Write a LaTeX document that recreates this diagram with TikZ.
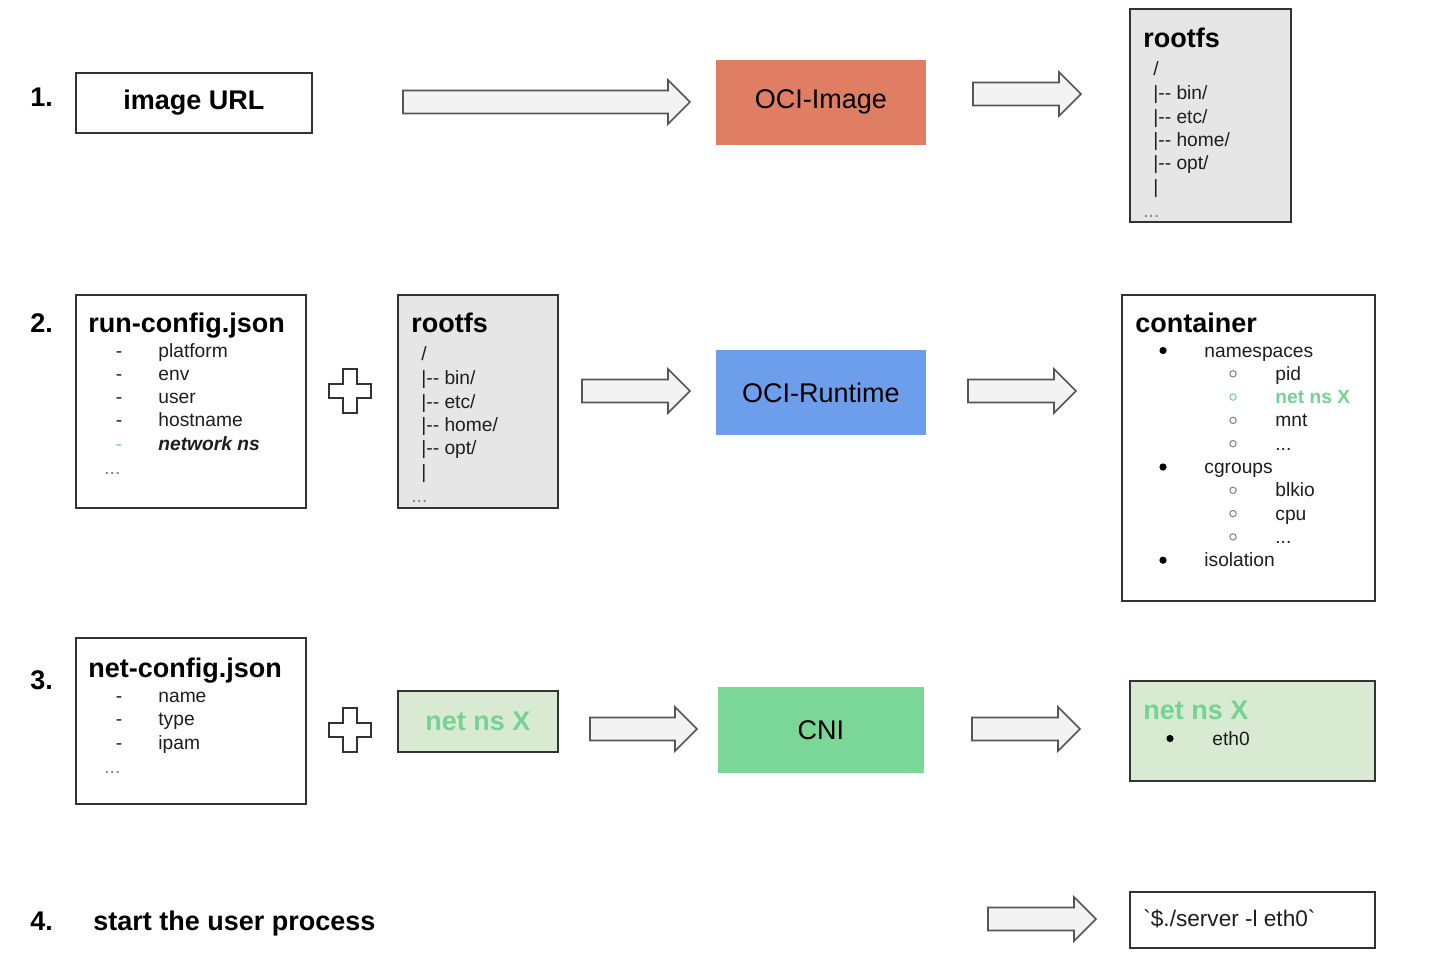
\documentclass[tikz,border=0pt]{standalone}
\usepackage{fontspec}
\setmainfont{Liberation Sans}[Ligatures=TeXOff]
\definecolor{boxline}{HTML}{333333}
\definecolor{salmon}{HTML}{E07E63}
\definecolor{cblue}{HTML}{6D9EEB}
\definecolor{cgreen}{HTML}{7BD797}
\definecolor{lgreen}{HTML}{D9EAD3}
\definecolor{gtext}{HTML}{74D393}
\definecolor{lgray}{HTML}{E6E6E6}
\definecolor{afill}{HTML}{F3F3F3}
\definecolor{aline}{HTML}{555555}
\definecolor{itemc}{HTML}{1E1E1E}
\newcommand\tdots{...}
\newcommand\blockarrow[3]{%
  \draw[barrow] (#1,#3-11.5) -- (#2-22,#3-11.5) -- (#2-22,#3-22) -- (#2,#3)
    -- (#2-22,#3+22) -- (#2-22,#3+11.5) -- (#1,#3+11.5) -- cycle;}
\newcommand\plussign[2]{%
  \draw[plusst] (#1-7,#2-22) -- (#1+7,#2-22) -- (#1+7,#2-7) -- (#1+21,#2-7)
    -- (#1+21,#2+7) -- (#1+7,#2+7) -- (#1+7,#2+22) -- (#1-7,#2+22)
    -- (#1-7,#2+7) -- (#1-21,#2+7) -- (#1-21,#2-7) -- (#1-7,#2-7) -- cycle;}
\begin{document}
\begin{tikzpicture}[x=0.5pt,y=-0.5pt,
  box/.style={draw=boxline, line width=0.85pt, inner sep=0pt, anchor=north west},
  bigtext/.style={font=\fontsize{13.5}{16}\selectfont},
  title/.style={font=\fontsize{13.5}{16}\selectfont\bfseries, inner sep=0pt, anchor=base west},
  item/.style={font=\fontsize{9.6}{11.6}\selectfont, text=itemc, inner sep=0pt, anchor=base west},
  dashitem/.style={font=\fontsize{9.6}{11.6}\selectfont, text=itemc, inner sep=0pt, anchor=base},
  barrow/.style={draw=aline, fill=afill, line width=0.8pt, line join=miter},
  plusst/.style={draw=boxline, fill=white, line width=0.8pt},
  bul/.style={fill=black},
  subbul/.style={draw=gray, line width=0.5pt}]
\useasboundingbox (0,0) rectangle (1442,970);
\fill[white] (0,0) rectangle (1442,970);

% ---------- Row 1 ----------
\node[title] (n1) at (30,106) {1.};
\node[box, fill=white, minimum width=118pt, minimum height=30pt, font=\fontsize{13.5}{16}\selectfont\bfseries] (url) at (75,72) {image URL};
\blockarrow{403}{690}{102}
\node[box, draw=salmon, fill=salmon, minimum width=104pt, minimum height=41.5pt, bigtext] (ociimg) at (716,60) {OCI-Image};
\blockarrow{973}{1081}{94}
\node[box, fill=lgray, minimum width=80.5pt, minimum height=106.5pt] (rootfsA) at (1129,8) {};
\node[title] (rootfsAt) at (1143,47) {rootfs};
\node[item] (ra0) at (1153,75) {/};
\node[item] (ra1) at (1153,99.5) {|-- bin/};
\node[item] (ra2) at (1153,123) {|-- etc/};
\node[item] (ra3) at (1153,146.3) {|-- home/};
\node[item] (ra4) at (1153,169.6) {|-- opt/};
\node[item] (ra5) at (1153,193) {|};
\node[item, text=gray] (radots) at (1143,217) {\tdots};

% ---------- Row 2 ----------
\node[title] (n2) at (30,332) {2.};
\node[box, fill=white, minimum width=115pt, minimum height=106.5pt] (runcfg) at (75,294) {};
\node[title] (runcfgt) at (88,332) {run-config.json};
\foreach \t [count=\i] in {platform, env, user, hostname}{
  \node[dashitem] (rcd\i) at (119,{357+23.3*(\i-1)}) {-};
  \node[item] (rc\i) at (158,{357+23.3*(\i-1)}) {\t};
}
\node[dashitem, text=gtext] (rcd5) at (119,450.2) {-};
\node[item, font=\fontsize{9.6}{11.6}\selectfont\bfseries\itshape] (rc5) at (158,450.2) {network ns};
\node[item, text=gray] (rcdots) at (104,474) {\tdots};

\plussign{350}{391}

\node[box, fill=lgray, minimum width=80pt, minimum height=106.5pt] (rootfsB) at (397,294) {};
\node[title] (rootfsBt) at (411,332) {rootfs};
\node[item] (rb0) at (421,360) {/};
\node[item] (rb1) at (421,384.5) {|-- bin/};
\node[item] (rb2) at (421,408) {|-- etc/};
\node[item] (rb3) at (421,431.3) {|-- home/};
\node[item] (rb4) at (421,454.6) {|-- opt/};
\node[item] (rb5) at (421,478) {|};
\node[item, text=gray] (rbdots) at (411,502) {\tdots};

\blockarrow{582}{690}{391}
\node[box, draw=cblue, fill=cblue, minimum width=104pt, minimum height=41.5pt, bigtext] (ocirt) at (716,350) {OCI-Runtime};
\blockarrow{968}{1076}{391}

\node[box, fill=white, minimum width=126.5pt, minimum height=153pt] (container) at (1121,294) {};
\node[title] (containert) at (1135,332) {container};
% level 1 items
\foreach \t/\k [count=\i] in {namespaces/0, cgroups/5, isolation/9}{
  \fill[bul] (1163,{357+23.3*\k-6.5}) circle (3.6);
  \node[item] (cl\i) at (1204,{357+23.3*\k}) {\t};
}
% level 2 items
\foreach \t/\k [count=\i] in {pid/1, mnt/3, \tdots/4, blkio/6, cpu/7, \tdots/8}{
  \draw[subbul] (1233,{357+23.3*\k-6.5}) circle (3.2);
  \node[item] (cs\i) at (1275,{357+23.3*\k}) {\t};
}
\draw[subbul, draw=gtext] (1233,{357+23.3*2-6.5}) circle (3.2);
\node[item, text=gtext, font=\fontsize{9.6}{11.6}\selectfont\bfseries] (csnet) at (1275,{357+23.3*2}) {net ns X};

% ---------- Row 3 ----------
\node[title] (n3) at (30,689) {3.};
\node[box, fill=white, minimum width=115pt, minimum height=83pt] (netcfg) at (75,637) {};
\node[title] (netcfgt) at (88,677) {net-config.json};
\foreach \t [count=\i] in {name, type, ipam}{
  \node[dashitem] (ncd\i) at (119,{702.5+23.3*(\i-1)}) {-};
  \node[item] (nc\i) at (158,{702.5+23.3*(\i-1)}) {\t};
}
\node[item, text=gray] (ncdots) at (104,773) {\tdots};

\plussign{350}{730}

\node[box, fill=lgreen, minimum width=80pt, minimum height=30.5pt, text=gtext, font=\fontsize{13.5}{16}\selectfont\bfseries] (netnsA) at (397,690) {net ns X};
\blockarrow{590}{697}{729}
\node[box, draw=cgreen, fill=cgreen, minimum width=102pt, minimum height=42pt, bigtext] (cni) at (718,687) {CNI};
\blockarrow{972}{1080}{729}
\node[box, fill=lgreen, minimum width=122.5pt, minimum height=50pt] (netnsB) at (1129,680) {};
\node[title, text=gtext] (netnsBt) at (1143,719) {net ns X};
\fill[bul] (1170,738.5) circle (3.6);
\node[item] (eth) at (1212,745) {eth0};

% ---------- Row 4 ----------
\node[title] (n4) at (30,930) {4.};
\node[title] (startp) at (93,930) {start the user process};
\blockarrow{988}{1096}{919}
\node[box, fill=white, minimum width=122.5pt, minimum height=28pt] (srvbox) at (1129,891) {};
\node[item, font=\fontsize{11.3}{13}\selectfont] (srv) at (1143,926) {`\$./server -l eth0`};
\end{tikzpicture}
\end{document}
